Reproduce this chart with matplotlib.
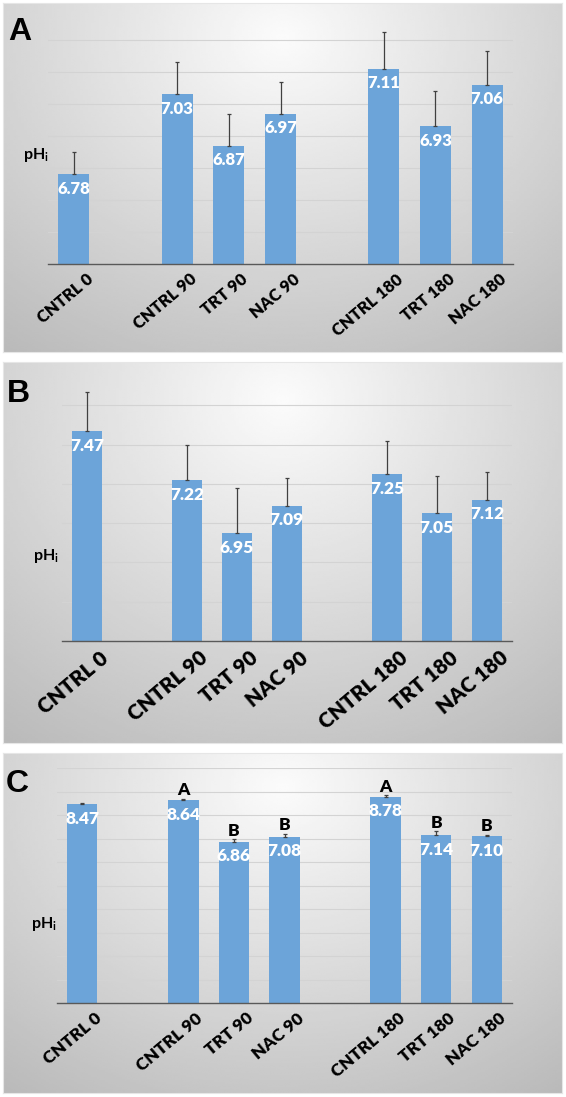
import numpy as np
import matplotlib
matplotlib.use("Agg")
import matplotlib.pyplot as plt
import matplotlib.transforms as mtransforms

# groups of treatments, one empty slot between groups
groups = [["CNTRL 0"],
          ["CNTRL 90", "TRT 90", "NAC 90"],
          ["CNTRL 180", "TRT 180", "NAC 180"]]

ph_a = [6.78, 7.03, 6.87, 6.97, 7.11, 6.93, 7.06]
err_a = [0.07, 0.10, 0.10, 0.10, 0.115, 0.11, 0.105]

ph_b = [7.47, 7.22, 6.95, 7.09, 7.25, 7.05, 7.12]
err_b = [0.20, 0.18, 0.23, 0.14, 0.17, 0.19, 0.14]

ph_c = [8.47, 8.64, 6.86, 7.08, 8.78, 7.14, 7.10]
err_c = [0.03, 0.04, 0.11, 0.11, 0.05, 0.17, 0.05]
letters_c = ["", "A", "B", "B", "A", "B", "B"]

W, H = 566, 1097
BAR = "#6ca4d9"
FONT = ["Lato", "DejaVu Sans"]
plt.rcParams['font.family'] = FONT

labels = []
pos = []
p = 0
for g in groups:
    for name in g:
        labels.append(name)
        pos.append(p)
        p += 1
    p += 1
nslots = p - 1


def px_box(x0, y0, x1, y1):
    return [x0 / W, 1 - y1 / H, (x1 - x0) / W, (y1 - y0) / H]


def gradient_panel(fig, box):
    bg = fig.add_axes(px_box(*box), zorder=0)
    yy, xx = np.mgrid[0:1:200j, 0:1:200j]
    r = np.sqrt(((xx - 0.5) / 0.75) ** 2 + ((yy - 0.1) / 1.0) ** 2)
    v = np.clip(0.985 - 0.23 * r, 0, 1)
    bg.imshow(v, cmap="gray", vmin=0, vmax=1, aspect="auto",
              extent=[0, 1, 1, 0], interpolation="bilinear")
    bg.set_xticks([])
    bg.set_yticks([])
    for s in bg.spines.values():
        s.set_color("#e6e6e6")
        s.set_linewidth(0.8)
    return bg


def draw_panel(fig, box, axbox, vals, errs, ylim, step, letter, letter_xy,
               ylab_xy, tick_fs, val_fs, tags=None):
    gradient_panel(fig, box)
    ax = fig.add_axes(px_box(*axbox), zorder=1)
    ax.set_facecolor("none")
    ax.bar(pos, vals, width=0.6, color=BAR, zorder=2)
    ax.errorbar(pos, vals, yerr=[np.zeros(len(errs)), errs], fmt="none",
                ecolor="#404040", elinewidth=0.9, capsize=1.2, capthick=0.9,
                zorder=3)
    ax.set_xlim(-0.5, nslots - 0.5)
    ax.set_ylim(*ylim)
    ticks = np.arange(ylim[0], ylim[1] + 1e-9, step)
    for t in ticks[1:]:
        ax.axhline(t, color="#d3d3d3", lw=0.8, zorder=1)
    ax.set_yticks([])
    for s in ["top", "right", "left"]:
        ax.spines[s].set_visible(False)
    ax.spines["bottom"].set_color("#595959")
    ax.spines["bottom"].set_linewidth(1.0)
    ax.set_xticks(pos)
    ax.set_xticklabels(labels, rotation=40, ha="right", rotation_mode="anchor",
                       fontsize=tick_fs, fontweight="heavy")
    ax.tick_params(axis="x", length=0, pad=5)
    off = mtransforms.ScaledTranslation(0.12, 0, fig.dpi_scale_trans)
    for lab in ax.get_xticklabels():
        lab.set_transform(lab.get_transform() + off)
    for x, v in zip(pos, vals):
        ax.annotate(f"{v:.2f}", (x, v), xytext=(0, -10.5), textcoords="offset points",
                    ha="center", va="center", color="white", fontsize=val_fs,
                    fontweight="heavy", zorder=4)
    if tags:
        for x, v, e, t in zip(pos, vals, errs, tags):
            if t:
                ax.annotate(t, (x, v + e), xytext=(0, 0.5), textcoords="offset points",
                            ha="center", va="bottom", fontsize=12.5, fontweight="heavy",
                            zorder=4)
    fig.text(letter_xy[0] / W, 1 - letter_xy[1] / H, letter, fontsize=23,
             fontweight="bold", ha="center", va="center",
             family=["Liberation Sans", "DejaVu Sans"])
    fig.text(ylab_xy[0] / W, 1 - ylab_xy[1] / H, r"pH$_\mathregular{i}$",
             fontsize=11.5, fontweight="bold", ha="center", va="center")
    return ax


fig = plt.figure(figsize=(W / 100, H / 100), dpi=100)

draw_panel(fig, (3, 3, 562, 352), (48, 24, 513, 264), ph_a, err_a,
           (6.5, 7.25), 0.1, "A", (20, 32), (36, 155), 12, 12)
draw_panel(fig, (3, 362, 562, 743), (62, 376, 512, 641), ph_b, err_b,
           (6.4, 7.75), 0.2, "B", (18, 394), (46, 556), 15, 12.5)
draw_panel(fig, (3, 753, 562, 1093), (57, 768, 512, 1003), ph_c, err_c,
           (0, 10), 1, "C", (17, 784), (44, 924), 12.5, 12.5, tags=letters_c)

fig.savefig("out.png", dpi=100)
